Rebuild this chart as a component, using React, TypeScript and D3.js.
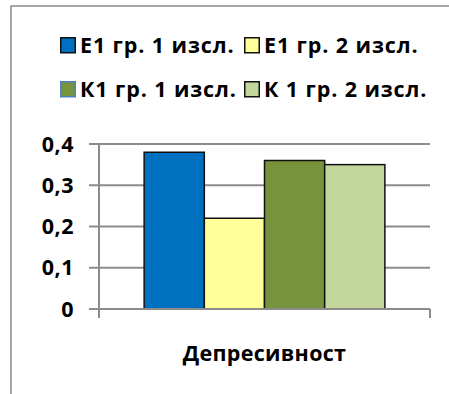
import React from "react";
import * as d3 from "d3";

const categories = ["Депресивност"];
const seriesNames = ["Е1 гр. 1 изсл.", "Е1 гр. 2 изсл.", "К1 гр. 1 изсл.", "К 1 гр. 2 изсл."];
const seriesValues = [0.38, 0.22, 0.36, 0.35];
const seriesColors = ["#0070C0", "#FFFF99", "#77933C", "#C3D69B"];
const swatchStrokes = ["#111111", "#111111", "#4F81BD", "#111111"];
const yTicks = [0, 0.1, 0.2, 0.3, 0.4];
const yTickLabels = ["0", "0,1", "0,2", "0,3", "0,4"];

const W = 449;
const H = 394;
const plotLeft = 99;
const plotRight = 430;
const plotTop = 144;
const plotBottom = 309;
const FONT = "'Open Sans', sans-serif";

export default function App() {
  const y = d3.scaleLinear().domain([0, 0.4]).range([plotBottom, plotTop]);
  const x0 = d3.scaleBand().domain(categories).range([plotLeft, plotRight]).paddingInner(0).paddingOuter(0);
  const groupW = x0.bandwidth() * (4 / 5.5);
  const x1 = d3.scaleBand().domain(seriesNames).range([0, groupW]).padding(0);
  const groupStart = (cat: string) => (x0(cat) ?? 0) + (x0.bandwidth() - groupW) / 2;

  const legendPos = [
    { x: 60, y: 37 },
    { x: 244, y: 37 },
    { x: 60, y: 81 },
    { x: 244, y: 81 },
  ];

  return (
    <svg
      width={W}
      height={H}
      style={{ position: "absolute", left: 0, top: 0, background: "#fff" }}
      fontFamily={FONT}
      fontWeight="bold"
    >
      <rect x={0} y={0} width={W} height={H} fill="#fff" />
      <rect x={11} y={6} width={W + 20} height={H + 20} fill="none" stroke="#8c8c8c" strokeWidth={1.5} />

      {yTicks.slice(1).map((t) => (
        <line key={t} x1={plotLeft} x2={plotRight} y1={y(t)} y2={y(t)} stroke="#8c8c8c" strokeWidth={2} />
      ))}

      {categories.map((cat) =>
        seriesNames.map((s, i) => (
          <rect
            key={s}
            x={groupStart(cat) + (x1(s) ?? 0)}
            y={y(seriesValues[i])}
            width={x1.bandwidth()}
            height={y(0) - y(seriesValues[i])}
            fill={seriesColors[i]}
            stroke="#111"
            strokeWidth={1.5}
          />
        ))
      )}

      <line x1={plotLeft} x2={plotLeft} y1={plotTop} y2={plotBottom + 9} stroke="#8c8c8c" strokeWidth={2} />
      <line x1={plotLeft - 10} x2={plotRight} y1={plotBottom} y2={plotBottom} stroke="#8c8c8c" strokeWidth={2} />
      <line x1={plotRight} x2={plotRight} y1={plotBottom} y2={plotBottom + 9} stroke="#8c8c8c" strokeWidth={2} />
      {yTicks.map((t, i) => (
        <g key={t}>
          <line x1={plotLeft - 10} x2={plotLeft} y1={y(t)} y2={y(t)} stroke="#8c8c8c" strokeWidth={2} />
          <text x={74} y={y(t)} dy="0.36em" textAnchor="end" fontSize={21.5} letterSpacing={0.5} fill="#000">
            {yTickLabels[i]}
          </text>
        </g>
      ))}

      {categories.map((cat) => (
        <text
          key={cat}
          x={(x0(cat) ?? 0) + x0.bandwidth() / 2}
          y={361}
          textAnchor="middle"
          fontSize={21.5}
          letterSpacing={0.3}
          fill="#000"
        >
          {cat}
        </text>
      ))}

      {seriesNames.map((s, i) => (
        <g key={s}>
          <rect
            x={legendPos[i].x + 0.75}
            y={legendPos[i].y + 0.75}
            width={14.5}
            height={15}
            fill={seriesColors[i]}
            stroke={swatchStrokes[i]}
            strokeWidth={1.5}
          />
          <text x={legendPos[i].x + 20} y={legendPos[i].y + 16} fontSize={21.5} letterSpacing={0.9} fill="#000">
            {s}
          </text>
        </g>
      ))}
    </svg>
  );
}
